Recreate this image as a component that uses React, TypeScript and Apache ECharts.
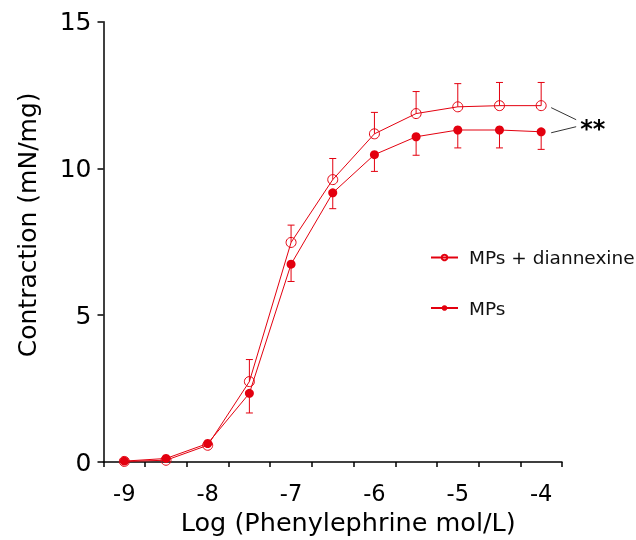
import React, { useEffect, useRef } from "react";
import * as echarts from "echarts";

const logDose = [-9, -8.5, -8, -7.5, -7, -6.5, -6, -5.5, -5, -4.5, -4];
const diannexMean = [0.02, 0.06, 0.57, 2.74, 7.48, 9.62, 11.18, 11.87, 12.1, 12.14, 12.14];
const diannexSem = [0.0, 0.02, 0.04, 0.75, 0.59, 0.72, 0.73, 0.75, 0.79, 0.79, 0.79];
const mpsMean = [0.03, 0.12, 0.63, 2.34, 6.74, 9.17, 10.47, 11.08, 11.31, 11.31, 11.25];
const mpsSem = [0.0, 0.02, 0.05, 0.67, 0.59, 0.54, 0.57, 0.63, 0.61, 0.61, 0.6];
const xTickValues = [-9.25, -8.75, -8.25, -7.75, -7.25, -6.75, -6.25, -5.75, -5.25, -4.75, -4.25, -3.75];
const xLabelValues = [-9, -8, -7, -6, -5, -4];
const yTickLabels = [0, 5, 10, 15];

const RED = "#e3000f";
const FONT = "'DejaVu Sans', 'Liberation Sans', Arial, sans-serif";

export default function App() {
  const ref = useRef<HTMLDivElement>(null);
  useEffect(() => {
    if (!ref.current) return;
    const chart = echarts.init(ref.current, undefined, { renderer: "svg" });

    const errSeries = (name: string, means: number[], sems: number[], dir: number) => ({
      type: "custom",
      name,
      silent: true,
      data: logDose.map((x, i) => [x, means[i], sems[i]]),
      renderItem: (params: any, api: any) => {
        const x = api.value(0);
        const y = api.value(1);
        const e = api.value(2);
        const p0 = api.coord([x, y]);
        const p1 = api.coord([x, y + dir * e]);
        const cap = 3.5;
        return {
          type: "group",
          children: [
            { type: "line", shape: { x1: p0[0], y1: p0[1], x2: p1[0], y2: p1[1] }, style: { stroke: RED, lineWidth: 1 } },
            { type: "line", shape: { x1: p1[0] - cap, y1: p1[1], x2: p1[0] + cap, y2: p1[1] }, style: { stroke: RED, lineWidth: 1 } },
          ],
        };
      },
      z: 1,
    });

    chart.setOption({
      animation: false,
      textStyle: { fontFamily: FONT },
      grid: { left: 103.5, right: 74, top: 21.7, bottom: 77 },
      legend: {
        data: ["MPs + diannexine", "MPs"],
        orient: "vertical",
        left: 430,
        top: 247.5,
        padding: 0,
        itemWidth: 27,
        itemHeight: 7,
        itemGap: 30.5,
        textStyle: { fontSize: 18.5, color: "#111", fontFamily: FONT, lineHeight: 20, padding: [0, 0, 0, 6] },
      },
      xAxis: {
        type: "value",
        min: -9.25,
        max: -3.75,
        name: "Log (Phenylephrine mol/L)",
        nameLocation: "middle",
        nameGap: 47,
        nameTextStyle: { fontSize: 25.5, color: "#000", fontFamily: FONT, padding: [0, 0, 0, 31] },
        axisLine: { lineStyle: { color: "#000", width: 1.5 } },
        axisTick: { length: 5, lineStyle: { color: "#000", width: 1.5 }, customValues: xTickValues },
        axisLabel: { fontSize: 22.5, color: "#000", margin: 19, customValues: xLabelValues },
        splitLine: { show: false },
      },
      yAxis: {
        type: "value",
        min: 0,
        max: 15,
        interval: 5,
        name: "Contraction (mN/mg)",
        nameLocation: "middle",
        nameGap: 64,
        nameTextStyle: { fontSize: 25, color: "#000", fontFamily: FONT, padding: [0, 0, 0, 34] },
        axisLine: { show: true, lineStyle: { color: "#000", width: 1.5 } },
        axisTick: { show: true, length: 6, lineStyle: { color: "#000", width: 1.5 }, customValues: yTickLabels },
        axisLabel: { fontSize: 25, color: "#000", margin: 12, customValues: yTickLabels },
        splitLine: { show: false },
      },
      series: [
        errSeries("err-diannexine", diannexMean, diannexSem, 1),
        errSeries("err-mps", mpsMean, mpsSem, -1),
        {
          type: "line",
          name: "MPs + diannexine",
          data: logDose.map((x, i) => [x, diannexMean[i]]),
          symbol: "circle",
          symbolSize: 10,
          showAllSymbol: true,
          lineStyle: { color: RED, width: 1 },
          itemStyle: { color: "rgba(255,255,255,0)", borderColor: RED, borderWidth: 1 },
          z: 3,
        },
        {
          type: "line",
          name: "MPs",
          data: logDose.map((x, i) => [x, mpsMean[i]]),
          symbol: "circle",
          symbolSize: 9,
          showAllSymbol: true,
          lineStyle: { color: RED, width: 1 },
          itemStyle: { color: RED, borderColor: RED, borderWidth: 0 },
          z: 3,
        },
      ],
    });

    const last = logDose.length - 1;
    const pOpen = chart.convertToPixel({ gridIndex: 0 }, [logDose[last], diannexMean[last]]) as number[];
    const pFill = chart.convertToPixel({ gridIndex: 0 }, [logDose[last], mpsMean[last]]) as number[];
    const x0 = pOpen[0] + 10;
    const x1 = pOpen[0] + 35;
    const midY = (pOpen[1] + pFill[1]) / 2;
    chart.setOption({
      graphic: [
        { type: "line", shape: { x1: x0, y1: pOpen[1] + 2, x2: x1, y2: midY + 1 }, style: { stroke: "#333", lineWidth: 1 } },
        { type: "line", shape: { x1: x0, y1: pFill[1] + 1, x2: x1, y2: midY + 8 }, style: { stroke: "#333", lineWidth: 1 } },
        {
          type: "text",
          x: x1 + 4,
          y: midY + 10,
          style: { text: "**", font: `bold 24px ${FONT}`, fill: "#000", verticalAlign: "middle" },
        },
      ],
    });

    return () => chart.dispose();
  }, []);
  return <div ref={ref} style={{ width: 636, height: 540, position: "fixed", left: 0, top: 0 }} />;
}
